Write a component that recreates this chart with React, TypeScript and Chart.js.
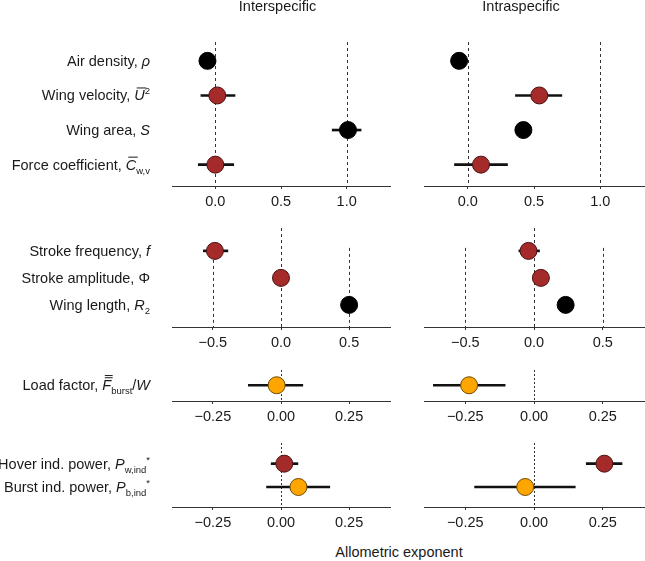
import React, { useEffect, useRef } from 'react';
import { Chart, registerables } from 'chart.js';
Chart.register(...registerables);

const FAMILY = '"Liberation Sans", Arial, Helvetica, sans-serif';
const FS = 14.5;
const SUBFS = 9.5;
const INK = '#1a1a1a';

type Seg = { t: string; it?: boolean; sub?: boolean; sup?: boolean; bar?: number };

// ---------- Row labels ----------
const row1Labels: Seg[][] = [
  [{ t: 'Air density, ' }, { t: 'ρ', it: true }],
  [{ t: 'Wing velocity, ' }, { t: 'U', it: true, bar: 1 }, { t: '2', sup: true }],
  [{ t: 'Wing area, ' }, { t: 'S', it: true }],
  [{ t: 'Force coefficient, ' }, { t: 'C', it: true, bar: 1 }, { t: 'w,v', sub: true }],
];
const row2Labels: Seg[][] = [
  [{ t: 'Stroke frequency, ' }, { t: 'f', it: true }],
  [{ t: 'Stroke amplitude, ' }, { t: 'Φ' }],
  [{ t: 'Wing length, ' }, { t: 'R', it: true }, { t: '2', sub: true }],
];
const row3Labels: Seg[][] = [
  [{ t: 'Load factor, ' }, { t: 'F', it: true, bar: 2 }, { t: 'burst', sub: true }, { t: '/' }, { t: 'W', it: true }],
];
const row4Labels: Seg[][] = [
  [{ t: 'Hover ind. power, ' }, { t: 'P', it: true }, { t: 'w,ind', sub: true }, { t: '*', sup: true }],
  [{ t: 'Burst ind. power, ' }, { t: 'P', it: true }, { t: 'b,ind', sub: true }, { t: '*', sup: true }],
];

// ---------- Point colour groups ----------
const row1Colors = ['black', 'brown', 'black', 'brown'];
const row2Colors = ['brown', 'brown', 'black'];
const row3Colors = ['orange'];
const row4Colors = ['brown', 'orange'];

// ---------- Values (estimate, lower CI, upper CI) ----------
const inter1 = [-0.06, 0.015, 1.01, 0.0];
const inter1Lo = [null, -0.11, 0.89, -0.13];
const inter1Hi = [null, 0.15, 1.11, 0.14];
const intra1 = [-0.065, 0.54, 0.42, 0.1];
const intra1Lo = [null, 0.36, null, -0.1];
const intra1Hi = [null, 0.71, null, 0.3];

const inter2 = [-0.485, 0.0, 0.5];
const inter2Lo = [-0.57, null, null];
const inter2Hi = [-0.39, null, null];
const intra2 = [-0.04, 0.05, 0.23];
const intra2Lo = [-0.11, null, null];
const intra2Hi = [0.04, null, null];

const inter3 = [-0.016];
const inter3Lo = [-0.12];
const inter3Hi = [0.08];
const intra3 = [-0.236];
const intra3Lo = [-0.366];
const intra3Hi = [-0.105];

const inter4 = [0.012, 0.064];
const inter4Lo = [-0.036, -0.053];
const inter4Hi = [0.062, 0.179];
const intra4 = [0.256, -0.032];
const intra4Lo = [0.19, -0.216];
const intra4Hi = [0.32, 0.15];

// ---------- Ticks ----------
const ticks1 = [0, 0.5, 1];
const tickLabels1 = ['0.0', '0.5', '1.0'];
const ticks2 = [-0.5, 0, 0.5];
const tickLabels2 = ['\u22120.5', '0.0', '0.5'];
const ticks3 = [-0.25, 0, 0.25];
const tickLabels3 = ['\u22120.25', '0.00', '0.25'];

// ---------- Reference lines ----------
const ref1 = [{ v: 0 }, { v: 1 }];
const ref2 = [{ v: -0.5, from: 0.889 }, { v: 0 }, { v: 0.5, from: 0.889 }];
const ref3 = [{ v: 0 }];
const ref4 = [{ v: 0 }];

const FILL: Record<string, string> = { black: '#000000', brown: '#A52A2A', orange: '#FFA500' };
const EDGE: Record<string, string> = { black: '#000000', brown: '#4a1212', orange: '#6e4a00' };

function drawRich(ctx: CanvasRenderingContext2D, segs: Seg[], right: number, cy: number) {
  const fontFor = (s: Seg) => `${s.it ? 'italic ' : ''}${s.sub || s.sup ? SUBFS : FS}px ${FAMILY}`;
  const widths = segs.map((s) => {
    ctx.font = fontFor(s);
    return ctx.measureText(s.t).width;
  });
  const total = widths.reduce((a, b) => a + b, 0);
  let x = right - total;
  const base = cy + 5;
  ctx.fillStyle = INK;
  ctx.strokeStyle = INK;
  ctx.textAlign = 'left';
  ctx.textBaseline = 'alphabetic';
  segs.forEach((s, i) => {
    ctx.font = fontFor(s);
    const dy = s.sub ? 4 : s.sup ? -6 : 0;
    ctx.fillText(s.t, x, base + dy);
    if (s.bar) {
      ctx.lineWidth = 1;
      for (let k = 0; k < s.bar; k++) {
        const yb = base - 12.5 - k * 2.2;
        ctx.beginPath();
        ctx.moveTo(x + 2.5, yb);
        ctx.lineTo(x + widths[i] + 1.5, yb);
        ctx.stroke();
      }
    }
    x += widths[i];
  });
}

type PanelSpec = {
  values: number[];
  lo: (number | null)[];
  hi: (number | null)[];
  colors: string[];
  labels?: Seg[][];
  xMin: number;
  xMax: number;
  ticks: number[];
  tickLabels: string[];
  yMin: number;
  yMax: number;
  refs: { v: number; from?: number }[];
  dash: number[];
  title?: string;
  titleX?: number;
  left: number;
  top: number;
  width: number;
  height: number;
  padL: number;
  padR: number;
  padT: number;
};

function buildConfig(p: PanelSpec): any {
  const refPlugin = {
    id: 'refLines',
    beforeDatasetsDraw(chart: any) {
      const { ctx, chartArea, scales } = chart;
      ctx.save();
      ctx.strokeStyle = '#333';
      ctx.lineWidth = 1;
      ctx.setLineDash(p.dash);
      p.refs.forEach((r) => {
        const x = Math.round(scales.x.getPixelForValue(r.v)) + 0.5;
        const y0 = r.from != null ? scales.y.getPixelForValue(r.from) : chartArea.top;
        ctx.beginPath();
        ctx.moveTo(x, y0);
        ctx.lineTo(x, chartArea.bottom);
        ctx.stroke();
      });
      ctx.restore();
    },
  };
  const textPlugin = {
    id: 'panelText',
    afterDraw(chart: any) {
      const { ctx, chartArea, scales } = chart;
      ctx.save();
      if (p.labels) {
        p.labels.forEach((segs, i) => {
          drawRich(ctx, segs, chartArea.left - 22, scales.y.getPixelForValue(i + 1));
        });
      }
      if (p.title) {
        ctx.font = `${FS}px ${FAMILY}`;
        ctx.fillStyle = INK;
        ctx.textAlign = 'center';
        ctx.textBaseline = 'middle';
        ctx.fillText(p.title, p.titleX ?? 0, 7);
      }
      ctx.restore();
    },
  };

  const pts = p.values.map((v, i) => ({ x: v, y: i + 1 }));
  const bars = p.values
    .map((_, i) => (p.lo[i] == null ? null : { x: [p.lo[i], p.hi[i]], y: i + 1 }))
    .filter(Boolean);

  return {
    type: 'bar',
    data: {
      datasets: [
        {
          type: 'scatter',
          data: pts,
          order: 0,
          pointRadius: 8.5,
          pointHoverRadius: 8.5,
          pointBorderWidth: 1,
          pointBackgroundColor: p.colors.map((c) => FILL[c]),
          pointBorderColor: p.colors.map((c) => EDGE[c]),
          clip: false,
        },
        {
          type: 'bar',
          data: bars,
          order: 1,
          indexAxis: 'y',
          barThickness: 2,
          backgroundColor: '#111',
          borderWidth: 0,
          grouped: false,
          clip: false,
        },
      ],
    },
    options: {
      animation: false,
      responsive: false,
      maintainAspectRatio: false,
      indexAxis: 'y',
      events: [],
      layout: { autoPadding: false, padding: { left: p.padL, right: p.padR, top: p.padT, bottom: 0 } },
      plugins: { legend: { display: false }, tooltip: { enabled: false }, title: { display: false } },
      scales: {
        x: {
          type: 'linear',
          position: 'bottom',
          min: p.xMin,
          max: p.xMax,
          afterBuildTicks: (s: any) => {
            s.ticks = p.ticks.map((v) => ({ value: v }));
          },
          afterFit: (s: any) => {
            s.height = 30;
          },
          ticks: {
            autoSkip: false,
            maxRotation: 0,
            padding: 4,
            color: INK,
            font: { family: FAMILY, size: FS },
            callback: (v: number) => {
              const idx = p.ticks.findIndex((t) => Math.abs(t - v) < 1e-9);
              return idx >= 0 ? p.tickLabels[idx] : '';
            },
          },
          grid: {
            display: true,
            drawOnChartArea: false,
            drawTicks: true,
            tickLength: 3,
            tickColor: '#333',
            tickWidth: 1,
          },
          border: { display: true, color: '#333', width: 1 },
        },
        y: {
          type: 'linear',
          display: false,
          reverse: true,
          min: p.yMin,
          max: p.yMax,
        },
      },
    },
    plugins: [refPlugin, textPlugin],
  };
}

function Panel({ spec }: { spec: PanelSpec }) {
  const ref = useRef<HTMLCanvasElement>(null);
  useEffect(() => {
    const chart = new Chart(ref.current as HTMLCanvasElement, buildConfig(spec));
    return () => chart.destroy();
  }, []);
  return (
    <canvas
      ref={ref}
      width={spec.width}
      height={spec.height}
      style={{ position: 'absolute', left: spec.left, top: spec.top, width: spec.width, height: spec.height }}
    />
  );
}

const LEFT = { left: 0, width: 400, padL: 172, padR: 10 };
const RIGHT = { left: 400, width: 245, padL: 24, padR: 1 };
const ROW1 = { top: 0, height: 216, padT: 42, yMin: 0.752, yMax: 4.32, xMin: -0.33, xMax: 1.33, ticks: ticks1, tickLabels: tickLabels1, refs: ref1, dash: [3, 3] };
const ROW2 = { top: 216, height: 141, padT: 12, yMin: 0.611, yMax: 3.361, xMin: -0.8, xMax: 0.8, ticks: ticks2, tickLabels: tickLabels2, refs: ref2, dash: [3, 3] };
const ROW3 = { top: 357, height: 74, padT: 13, yMin: 0.583, yMax: 1.444, xMin: -0.4, xMax: 0.4, ticks: ticks3, tickLabels: tickLabels3, refs: ref3, dash: [2, 2] };
const ROW4 = { top: 431, height: 106, padT: 12, yMin: 0.571, yMax: 2.4, xMin: -0.4, xMax: 0.4, ticks: ticks3, tickLabels: tickLabels3, refs: ref4, dash: [2, 2] };

const panels: PanelSpec[] = [
  { ...LEFT, ...ROW1, values: inter1, lo: inter1Lo, hi: inter1Hi, colors: row1Colors, labels: row1Labels, title: 'Interspecific', titleX: 277.5 },
  { ...RIGHT, ...ROW1, values: intra1, lo: intra1Lo, hi: intra1Hi, colors: row1Colors, title: 'Intraspecific', titleX: 121 },
  { ...LEFT, ...ROW2, values: inter2, lo: inter2Lo, hi: inter2Hi, colors: row2Colors, labels: row2Labels },
  { ...RIGHT, ...ROW2, values: intra2, lo: intra2Lo, hi: intra2Hi, colors: row2Colors },
  { ...LEFT, ...ROW3, values: inter3, lo: inter3Lo, hi: inter3Hi, colors: row3Colors, labels: row3Labels },
  { ...RIGHT, ...ROW3, values: intra3, lo: intra3Lo, hi: intra3Hi, colors: row3Colors },
  { ...LEFT, ...ROW4, values: inter4, lo: inter4Lo, hi: inter4Hi, colors: row4Colors, labels: row4Labels },
  { ...RIGHT, ...ROW4, values: intra4, lo: intra4Lo, hi: intra4Hi, colors: row4Colors },
];

export default function App() {
  return (
    <div style={{ position: 'absolute', left: 0, top: 0, width: 645, height: 561, background: '#ffffff', overflow: 'hidden' }}>
      {panels.map((s, i) => (
        <Panel key={i} spec={s} />
      ))}
      <div
        style={{
          position: 'absolute',
          left: 399,
          top: 543,
          transform: 'translateX(-50%)',
          whiteSpace: 'nowrap',
          font: `${FS}px ${FAMILY}`,
          color: INK,
          lineHeight: '18px',
        }}
      >
        Allometric exponent
      </div>
    </div>
  );
}
